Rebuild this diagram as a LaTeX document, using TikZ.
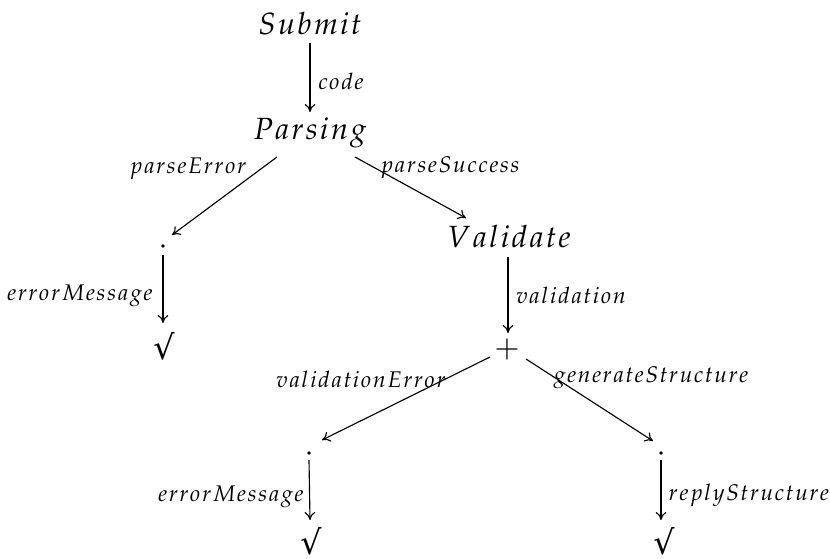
\documentclass[tikz,border=0pt]{standalone}
\usepackage{mathpazo}
\usepackage[no-math]{fontspec}
\newfontfamily\chkfont{DejaVu Serif}
\usetikzlibrary{arrows.meta}
\makeatletter
\def\lsp#1#2{\def\lsp@k{#1}\lsp@a#2\@nil}
\def\lsp@a#1{#1\lsp@b}
\def\lsp@b#1{\ifx#1\@nil\else\kern\lsp@k\relax#1\expandafter\lsp@b\fi}
\makeatother
\newcommand\bigt[1]{$\lsp{1.2pt}{#1}$}
\newcommand\smt[1]{$\lsp{0.9pt}{#1}$}
\tikzset{
  big/.style={inner sep=0pt, font=\fontsize{23}{26}\selectfont},
  chk/.style={inner sep=0pt, font=\chkfont\fontsize{25}{28}\selectfont},
  lbl/.style={inner sep=0pt, anchor=base, font=\fontsize{17}{20}\selectfont},
  dotnode/.style={circle, fill=black, inner sep=0pt, minimum size=2.8pt},
  arr/.style={line width=0.85pt, -{Computer Modern Rightarrow[length=6pt,width=8pt,line width=0.85pt]}}
}
\begin{document}
\begin{tikzpicture}[x=0.75pt,y=-0.75pt]
\useasboundingbox (0,0) rectangle (830,558);
% nodes
\node[big,anchor=base] (sub) at (310,34) {\bigt{Submit}};
\node[big,anchor=base] (par) at (310,139) {\bigt{Parsing}};
\node[big,anchor=base] (val) at (509,247) {\bigt{Validate}};
\node[big] (plus) at (507,349) {$+$};
\node[dotnode] (d1) at (163,246) {};
\node[dotnode] (d2) at (309,453) {};
\node[dotnode] (d3) at (661,453) {};
\node[chk] (c1) at (164,346) {√};
\node[chk] (c2) at (311,541) {√};
\node[chk] (c3) at (664,541) {√};
% connectors
\draw[arr] ([shift={(0,9)}]sub.base) -- ([shift={(0,-27)}]par.base);
\draw[arr] ([shift={(-33,18)}]par.base) -- ([shift={(9,-11)}]d1.center);
\draw[arr] ([shift={(45,18)}]par.base) -- ([shift={(-43,-29)}]val.base);
\draw[arr] ([shift={(0,9)}]d1.center) -- ([shift={(-1,-23)}]c1.center);
\draw[arr] ([shift={(-1,10)}]val.base) -- ([shift={(1,-16)}]plus.center);
\draw[arr] ([shift={(-17,8)}]plus.center) -- ([shift={(13,-13)}]d2.center);
\draw[arr] ([shift={(19,10)}]plus.center) -- ([shift={(-8,-12)}]d3.center);
\draw[arr] ([shift={(0,7)}]d2.center) -- ([shift={(-1,-21)}]c2.center);
\draw[arr] ([shift={(0,7)}]d3.center) -- ([shift={(-3,-21)}]c3.center);
% labels
\node[lbl] (lcode) at (341,89) {\smt{code}};
\node[lbl] (lpe) at (188,173) {\smt{parseError}};
\node[lbl] (lps) at (450,172) {\smt{parseSuccess}};
\node[lbl] (lem1) at (80,300) {\smt{errorMessage}};
\node[lbl] (lval) at (571,303) {\smt{validation}};
\node[lbl] (lve) at (361,387) {\smt{validationError}};
\node[lbl] (lgs) at (651,382) {\smt{generateStructure}};
\node[lbl] (lem2) at (231,501) {\smt{errorMessage}};
\node[lbl] (lrs) at (749,500) {\smt{replyStructure}};
\end{tikzpicture}
\end{document}
